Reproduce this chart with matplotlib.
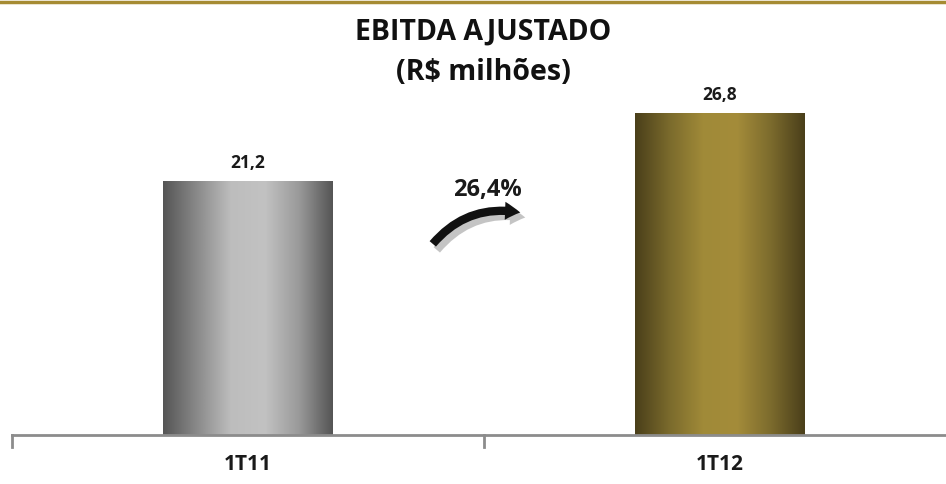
import numpy as np
import matplotlib
matplotlib.use("Agg")
import matplotlib.pyplot as plt
from matplotlib.colors import LinearSegmentedColormap
from matplotlib.patches import FancyArrowPatch

categories = ["1T11", "1T12"]
values = [21.2, 26.8]
value_labels = ["21,2", "26,8"]
growth_label = "26,4%"
title_lines = ["EBITDA AJUSTADO", "(R$ milhões)"]

plt.rcParams["font.family"] = ["Open Sans", "DejaVu Sans"]

W, H = 946, 484
fig = plt.figure(figsize=(W / 100, H / 100), dpi=100)
fig.patch.set_facecolor("white")

ax_left = 12 / W
ax = fig.add_axes([ax_left, (H - 435) / H, 1 - ax_left, 435 / H])
xmax = 0.5 + 462 / 472
ax.axis("off")

x = np.arange(len(categories))
bars = ax.bar(x, values, width=0.36, color="none", edgecolor="none", zorder=2)

cmaps = [
    LinearSegmentedColormap.from_list("g", [(0, "#555555"), (0.2, "#8a8a8a"), (0.4, "#bdbdbd"), (0.6, "#c2c2c2"), (0.8, "#9a9a9a"), (1, "#555555")]),
    LinearSegmentedColormap.from_list("o", [(0, "#4a3f1a"), (0.2, "#7a6a2c"), (0.4, "#a08a38"), (0.6, "#a48c3a"), (0.8, "#7c6b2d"), (1, "#4a3f1a")]),
]
grad = np.linspace(0, 1, 256).reshape(1, -1)
for b, cm in zip(bars, cmaps):
    x0, y0 = b.get_x(), b.get_y()
    w, h = b.get_width(), b.get_height()
    im = ax.imshow(grad, cmap=cm, aspect="auto", extent=(x0, x0 + w, y0, y0 + h), zorder=2, interpolation="bilinear")
    im.set_clip_path(b)

ax.set_xlim(-0.5, xmax)
ax.set_ylim(0, 435 / 12)

for xi, v, lab in zip(x, values, value_labels):
    ax.annotate(lab, (xi, v), xytext=(0, 13), textcoords="offset points",
                ha="center", va="center", fontsize=12.5, fontweight="bold", color="#1a1a1a")

axis_color = "#8c8c8c"
ax.plot([-0.5, xmax], [0, 0], color=axis_color, lw=2, clip_on=False, zorder=3)
for tx in [-0.5, 0.5]:
    ax.plot([tx, tx], [0, -1.0], color=axis_color, lw=2, clip_on=False, zorder=3)

for xi, c in zip(x, categories):
    ax.text(xi, -2.5, c, ha="center", va="center", fontsize=15, fontweight="bold",
            color="#1a1a1a", clip_on=False)

# growth arrow
fig.text(487 / W, 1 - 190 / H, growth_label, ha="center", va="center", fontsize=17, fontweight="bold", color="#1a1a1a")
style = "simple,head_width=13,head_length=11,tail_width=6"
shadow = FancyArrowPatch((435 / W, 1 - 252 / H), (528 / W, 1 - 218 / H), transform=fig.transFigure,
                         connectionstyle="arc3,rad=-0.3", arrowstyle=style,
                         color="#c4c4c4", lw=0, zorder=4)
fig.patches.append(shadow)
arrow = FancyArrowPatch((431 / W, 1 - 246 / H), (523 / W, 1 - 213 / H), transform=fig.transFigure,
                        connectionstyle="arc3,rad=-0.3", arrowstyle=style,
                        color="#111111", lw=0, zorder=5)
fig.patches.append(arrow)

# title
fig.text(483 / W, 1 - 32 / H, title_lines[0], ha="center", va="center", fontsize=20.5, fontweight="bold", color="#111111")
fig.text(483 / W, 1 - 72 / H, title_lines[1], ha="center", va="center", fontsize=20.5, fontweight="bold", color="#111111")

# top gold rule
fig.add_artist(plt.Line2D([0, 1], [1 - 1.5 / H, 1 - 1.5 / H], transform=fig.transFigure, color="#a68b33", lw=2.5))

fig.savefig("out.png", dpi=100, facecolor="white")
